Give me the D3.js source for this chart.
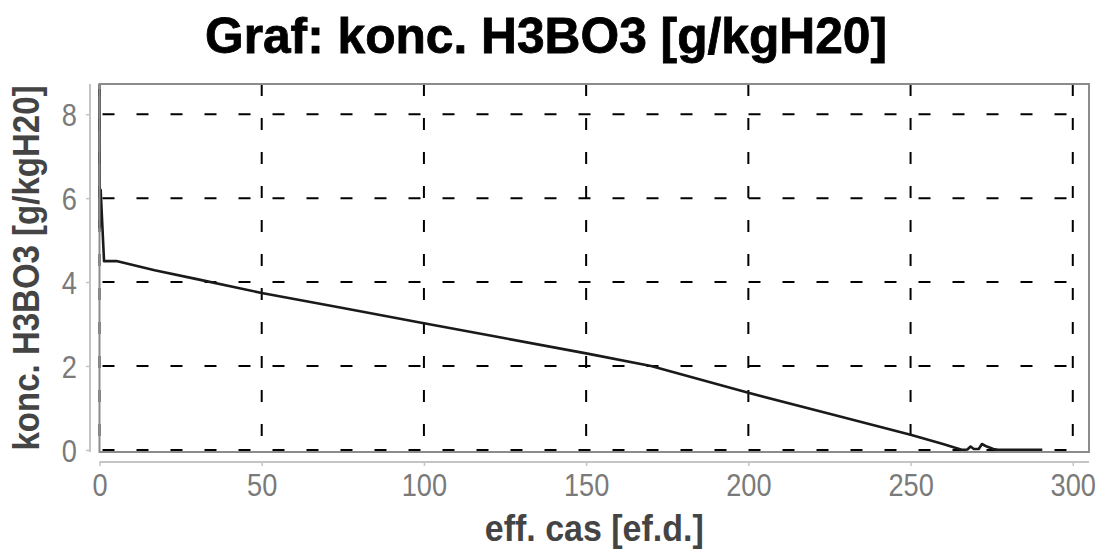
<!DOCTYPE html>
<html>
<head>
<meta charset="utf-8">
<script src="https://cdn.jsdelivr.net/npm/d3@7"></script>
<style>
  html, body { margin: 0; padding: 0; background: #fff; }
  svg { display: block; }
</style>
</head>
<body>
<svg id="chart" width="1105" height="551"></svg>
<script>
const chartTitle = "Graf: konc. H3BO3 [g/kgH20]";
const xTitle = "eff. cas [ef.d.]";
const yTitle = "konc. H3BO3 [g/kgH20]";
const days = [0, 0.05, 0.35, 1.4, 5.2, 17, 30, 50, 75, 100, 125, 150, 170, 200, 225, 250, 260, 266, 267.5, 268.5, 269.5, 271, 272, 273.5, 275.5, 277, 290.6];
const conc = [8.6, 5.3, 6.2, 4.5, 4.5, 4.28, 4.07, 3.74, 3.38, 3.02, 2.66, 2.30, 2.0, 1.36, 0.86, 0.36, 0.14, 0.0, 0.01, 0.08, 0.02, 0.02, 0.14, 0.08, 0.02, 0.0, 0.0];
const xTicks = [0, 50, 100, 150, 200, 250, 300];
const yTicks = [0, 2, 4, 6, 8];
const xDomain = [0, 305];
const yDomain = [-0.05, 8.72];

const svg = d3.select("#chart");
const plot = { left: 99.5, right: 1089, top: 84, bottom: 452 };
const FONT = "'Liberation Sans', Arial, sans-serif";

const x = d3.scaleLinear().domain(xDomain).range([plot.left, plot.right]);
const y = d3.scaleLinear().domain(yDomain).range([plot.bottom, plot.top]);

// title
svg.append("text")
  .attr("x", 546).attr("y", 53)
  .attr("text-anchor", "middle")
  .attr("font-family", FONT)
  .attr("font-weight", "bold")
  .attr("font-size", 50)
  .attr("fill", "#000")
  .attr("stroke", "#000").attr("stroke-width", 0.8)
  .attr("textLength", 682).attr("lengthAdjust", "spacingAndGlyphs")
  .text(chartTitle);

// gridlines
const grid = svg.append("g").attr("stroke", "#000").attr("stroke-width", 2).attr("stroke-dasharray", "12,22");
grid.selectAll("line.v").data(xTicks).join("line")
  .attr("class", "v")
  .attr("x1", d => x(d)).attr("x2", d => x(d))
  .attr("y1", plot.top).attr("y2", plot.bottom);
grid.selectAll("line.h").data(yTicks).join("line")
  .attr("class", "h")
  .attr("stroke-dashoffset", -3)
  .attr("x1", plot.left).attr("x2", plot.right)
  .attr("y1", d => y(d)).attr("y2", d => y(d));

// data line
const line = d3.line().x((d, i) => x(days[i])).y((d, i) => y(conc[i]));
svg.append("path")
  .datum(conc)
  .attr("d", line)
  .attr("fill", "none")
  .attr("stroke", "#1a1a1a")
  .attr("stroke-width", 2.6)
  .attr("stroke-linejoin", "round");

// plot border
svg.append("rect")
  .attr("x", plot.left).attr("y", plot.top)
  .attr("width", plot.right - plot.left).attr("height", plot.bottom - plot.top)
  .attr("fill", "none").attr("stroke", "#8c8c8c").attr("stroke-width", 2);

// axes
const xAxis = d3.axisBottom(x).tickValues(xTicks).tickSize(4).tickPadding(8).tickFormat(d3.format("d"));
const gx = svg.append("g").attr("transform", `translate(0,${462})`).call(xAxis);
gx.select(".domain").attr("d", `M${plot.left},0H${plot.right}`);

const yAxis = d3.axisLeft(y).tickValues(yTicks).tickSize(4).tickPadding(10).tickFormat(d3.format("d"));
const gy = svg.append("g").attr("transform", `translate(${90},0)`).call(yAxis);
gy.select(".domain").attr("d", `M0,${plot.top}V${plot.bottom}`);

[gx, gy].forEach(g => {
  g.select(".domain").attr("stroke", "#c4c4c4").attr("stroke-width", 2).attr("fill", "none");
  g.selectAll(".tick line").attr("stroke", "#c4c4c4").attr("stroke-width", 1.5);
  g.selectAll(".tick text")
    .attr("fill", "#7a7a7a")
    .attr("font-family", FONT)
    .attr("font-size", 32);
});
gx.selectAll(".tick text")
  .attr("y", 11).attr("dy", "0.71em")
  .attr("transform", "scale(0.85,1)");
gy.selectAll(".tick text")
  .attr("x", 0).attr("dy", "0.35em")
  .attr("transform", "translate(-13,0) scale(0.85,1)");

// axis titles
svg.append("text")
  .attr("x", (plot.left + plot.right) / 2).attr("y", 541)
  .attr("text-anchor", "middle")
  .attr("font-family", FONT)
  .attr("font-weight", "bold")
  .attr("font-size", 37)
  .attr("fill", "#444")
  .attr("textLength", 219).attr("lengthAdjust", "spacingAndGlyphs")
  .text(xTitle);

svg.append("text")
  .attr("transform", `translate(39,${(plot.top + plot.bottom) / 2}) rotate(-90)`)
  .attr("text-anchor", "middle")
  .attr("font-family", FONT)
  .attr("font-weight", "bold")
  .attr("font-size", 36)
  .attr("fill", "#444")
  .attr("textLength", 365).attr("lengthAdjust", "spacingAndGlyphs")
  .text(yTitle);
</script>
</body>
</html>
